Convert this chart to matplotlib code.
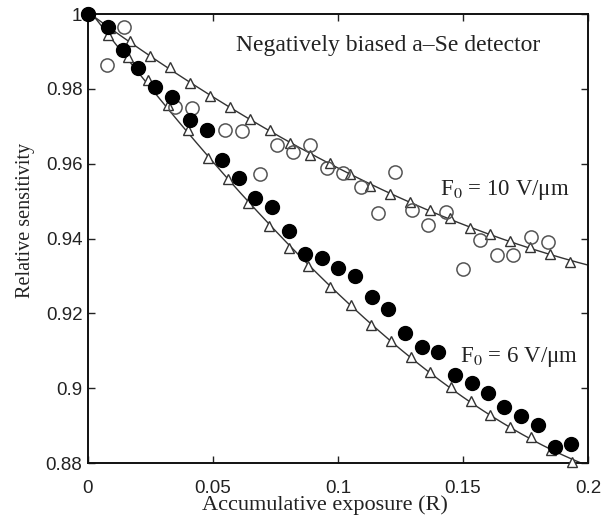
import matplotlib
matplotlib.use("Agg")
import matplotlib.pyplot as plt
import numpy as np
from matplotlib.ticker import FuncFormatter

plt.rcParams['font.family'] = ['Liberation Serif', 'DejaVu Serif']
plt.rcParams['mathtext.fontset'] = 'stix'

# F0 = 6 V/um, filled circles
x_6 = [0.0, 0.008, 0.014, 0.020, 0.0268, 0.0336, 0.0408, 0.0476, 0.0536, 0.0604,
       0.0668, 0.0736, 0.0804, 0.0868, 0.0936, 0.100, 0.1068, 0.1136, 0.120, 0.1268,
       0.1336, 0.140, 0.1468, 0.1536, 0.160, 0.1664, 0.1732, 0.180, 0.1868, 0.1932]
y_6 = [1.0, 0.9965, 0.9904, 0.9856, 0.9805, 0.9778, 0.9716, 0.9690, 0.9610, 0.9562,
       0.9508, 0.9484, 0.9420, 0.9359, 0.9348, 0.9321, 0.9300, 0.9244, 0.9212, 0.9148,
       0.9110, 0.9097, 0.9035, 0.9014, 0.8987, 0.8950, 0.8926, 0.8902, 0.8843, 0.8851]

# F0 = 10 V/um, open circles
x_10 = [0.0, 0.0076, 0.0144, 0.0348, 0.0416, 0.0476, 0.0548, 0.0616, 0.0688, 0.0756,
        0.082, 0.0888, 0.0956, 0.102, 0.1092, 0.116, 0.1228, 0.1296, 0.136, 0.1432,
        0.150, 0.1568, 0.1636, 0.170, 0.1772, 0.184]
y_10 = [1.0, 0.9864, 0.9965, 0.9751, 0.9749, 0.9690, 0.9690, 0.9687, 0.9572, 0.9650,
        0.9631, 0.9650, 0.9588, 0.9575, 0.9538, 0.9468, 0.9578, 0.9476, 0.9436, 0.9471,
        0.9319, 0.9396, 0.9356, 0.9356, 0.9404, 0.9391]

# model points (triangles)
x_m10 = [0.0, 0.0088, 0.0168, 0.0248, 0.0328, 0.0408, 0.0488, 0.0568, 0.0648, 0.0728,
         0.0808, 0.0888, 0.0968, 0.1048, 0.1128, 0.1208, 0.1288, 0.1368, 0.1448, 0.1528,
         0.1608, 0.1688, 0.1768, 0.1848, 0.1928]
y_m10 = [1.0, 0.9963, 0.9928, 0.9888, 0.9858, 0.9816, 0.9781, 0.9751, 0.9719, 0.9690,
         0.9655, 0.9623, 0.9602, 0.9572, 0.9540, 0.9519, 0.9498, 0.9476, 0.9455, 0.9428,
         0.9412, 0.9393, 0.9377, 0.9359, 0.9337]
x_m6 = [0.0, 0.008, 0.016, 0.024, 0.032, 0.040, 0.048, 0.056, 0.064, 0.0724,
        0.0804, 0.088, 0.0968, 0.1052, 0.1132, 0.1212, 0.1292, 0.1368, 0.1452, 0.1532,
        0.1608, 0.1688, 0.1772, 0.1852, 0.1936]
y_m6 = [1.0, 0.9944, 0.9885, 0.9824, 0.9757, 0.9690, 0.9615, 0.9559, 0.9495, 0.9433,
        0.9375, 0.9327, 0.9270, 0.9222, 0.9169, 0.9126, 0.9083, 0.9043, 0.9003, 0.8966,
        0.8928, 0.8896, 0.8870, 0.8835, 0.8803]

fig = plt.figure(figsize=(6.08, 5.27), dpi=100)
ax = fig.add_axes([0.1447, 0.1214, 0.8224, 0.852])

# smooth fit curves through the model points
xf = np.linspace(0, 0.2, 200)
for xm, ym in [(x_m10, y_m10), (x_m6, y_m6)]:
    c = np.polyfit(xm, ym, 3)
    ax.plot(xf, np.polyval(c, xf), color='#333333', lw=1.0, zorder=2)

ax.plot(x_m10, y_m10, '^', ms=7, mfc='white', mec='#333333', mew=1.0, ls='none', zorder=3, clip_on=False)
ax.plot(x_m6, y_m6, '^', ms=7, mfc='white', mec='#333333', mew=1.0, ls='none', zorder=3, clip_on=False)
ax.plot(x_10, y_10, 'o', ms=9.5, mfc='none', mec='#555555', mew=1.1, ls='none', zorder=4, clip_on=False)
ax.plot(x_6, y_6, 'o', ms=10, mfc='black', mec='black', ls='none', zorder=5, clip_on=False)

ax.set_xlim(0, 0.2)
ax.set_ylim(0.88, 1.0)
ax.set_xticks([0, 0.05, 0.1, 0.15, 0.2])
ax.set_yticks([0.88, 0.9, 0.92, 0.94, 0.96, 0.98, 1.0])
fmt = FuncFormatter(lambda v, p: '%g' % round(v, 4))
ax.xaxis.set_major_formatter(fmt)
ax.yaxis.set_major_formatter(fmt)
ax.tick_params(direction='in', length=5, width=1, top=True, right=True,
               labelsize=13.5, colors='#222222')
ax.tick_params(axis='x', pad=12)
ax.tick_params(axis='y', pad=4)
for lab in ax.get_xticklabels() + ax.get_yticklabels():
    lab.set_family(['Liberation Sans', 'DejaVu Sans'])
for s in ax.spines.values():
    s.set_linewidth(1.4)
    s.set_color('#111111')

ax.set_xlabel('Accumulative exposure (R)', fontsize=16, color='#222222')
ax.set_ylabel('Relative sensitivity', fontsize=14.5, color='#222222')
ax.xaxis.set_label_coords(0.474, -0.072)
ax.yaxis.set_label_coords(-0.106, 0.54)

ax.text(0.12, 0.9917, 'Negatively biased a\u2013Se detector', fontsize=17,
        ha='center', va='center', color='#222222')
ax.text(0.141, 0.953, 'F$_0$ = 10 V/\u03bcm', fontsize=16.5, ha='left', va='center', color='#222222')
ax.text(0.149, 0.9083, 'F$_0$ = 6 V/\u03bcm', fontsize=16.5, ha='left', va='center', color='#222222')

fig.savefig('out.png', dpi=100)
